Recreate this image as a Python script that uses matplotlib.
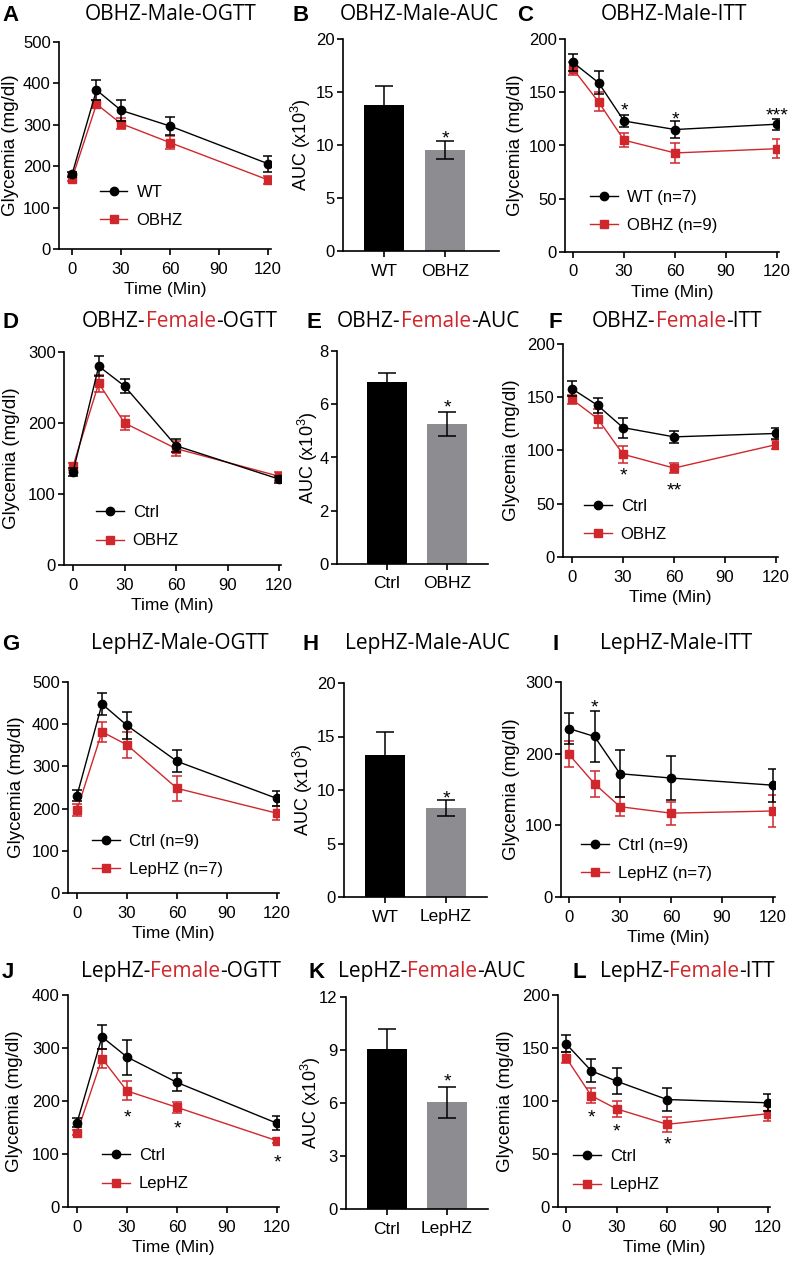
import matplotlib
matplotlib.use("Agg")
import matplotlib.pyplot as plt
from matplotlib.lines import Line2D

W, H, DPI = 791, 1261, 100
RED = "#d0272d"
GRAY = "#8d8d91"

plt.rcParams['font.family'] = ['Liberation Sans', 'DejaVu Sans']
plt.rcParams['mathtext.fontset'] = 'custom'
plt.rcParams['mathtext.rm'] = 'Liberation Sans'
plt.rcParams['mathtext.it'] = 'Liberation Sans:italic'
plt.rcParams['mathtext.bf'] = 'Liberation Sans:bold'

# ---------------- data ----------------
time_min = [0, 15, 30, 60, 120]
time_ticks = [0, 30, 60, 90, 120]

# A  OBHZ-Male-OGTT
A_ctrl = [180, 384, 335, 297, 206]
A_ctrl_sem = [6, 24, 26, 22, 19]
A_trt = [170, 350, 303, 257, 167]
A_trt_sem = [6, 10, 14, 16, 9]
A_labels = ["WT", "OBHZ"]
A_yticks = [0, 100, 200, 300, 400, 500]

# B  OBHZ-Male-AUC
B_cats = ["WT", "OBHZ"]
B_mean = [13.8, 9.55]
B_sem = [1.75, 0.85]
B_yticks = [0, 5, 10, 15, 20]

# C  OBHZ-Male-ITT
C_ctrl = [178, 159, 123, 115, 120]
C_ctrl_sem = [8, 11, 6, 8, 5]
C_trt = [172, 141, 105, 93, 97]
C_trt_sem = [6, 9, 6.5, 9, 9]
C_labels = ["WT (n=7)", "OBHZ (n=9)"]
C_yticks = [0, 50, 100, 150, 200]
C_stars_t = [30, 60, 120]
C_stars_y = [139, 130, 134]
C_stars_s = ["*", "*", "***"]

# D  OBHZ-Female-OGTT
D_ctrl = [131, 280, 252, 168, 121]
D_ctrl_sem = [6, 14, 10, 9, 5]
D_trt = [139, 256, 200, 164, 125]
D_trt_sem = [5, 12, 10, 10, 6]
D_labels = ["Ctrl", "OBHZ"]
D_yticks = [0, 100, 200, 300]

# E  OBHZ-Female-AUC
E_cats = ["Ctrl", "OBHZ"]
E_mean = [6.83, 5.26]
E_sem = [0.35, 0.46]
E_yticks = [0, 2, 4, 6, 8]

# F  OBHZ-Female-ITT
F_ctrl = [158, 142.5, 121.5, 112.8, 116]
F_ctrl_sem = [7, 7, 9.4, 5.3, 5]
F_trt = [148, 130, 96.5, 83.5, 105.5]
F_trt_sem = [4, 9, 8, 5, 4]
F_labels = ["Ctrl", "OBHZ"]
F_yticks = [0, 50, 100, 150, 200]
F_stars_t = [30, 60]
F_stars_y = [82, 68]
F_stars_s = ["*", "**"]

# G  LepHZ-Male-OGTT
G_ctrl = [231, 448, 397, 312, 224]
G_ctrl_sem = [14, 27, 32, 26, 17]
G_trt = [197, 382, 351, 248, 189]
G_trt_sem = [14, 23, 31, 30, 17]
G_labels = ["Ctrl (n=9)", "LepHZ (n=7)"]
G_yticks = [0, 100, 200, 300, 400, 500]

# H  LepHZ-Male-AUC
H_cats = ["WT", "LepHZ"]
H_mean = [13.3, 8.3]
H_sem = [2.15, 0.75]
H_yticks = [0, 5, 10, 15, 20]

# I  LepHZ-Male-ITT
I_ctrl = [235, 224, 172, 166, 156]
I_ctrl_sem = [22, 36, 33, 31, 23]
I_trt = [199, 158, 126, 117, 120]
I_trt_sem = [18, 18, 13, 16, 23]
I_labels = ["Ctrl (n=9)", "LepHZ (n=7)"]
I_yticks = [0, 100, 200, 300]
I_stars_t = [15]
I_stars_y = [273]
I_stars_s = ["*"]

# J  LepHZ-Female-OGTT
J_ctrl = [159, 321, 283, 235, 158]
J_ctrl_sem = [8, 23, 33, 17, 13]
J_trt = [140, 280, 219, 188, 125]
J_trt_sem = [5, 18, 18, 10, 5]
J_labels = ["Ctrl", "LepHZ"]
J_yticks = [0, 100, 200, 300, 400]
J_stars_t = [30, 60, 120]
J_stars_y = [181, 159, 96]
J_stars_s = ["*", "*", "*"]

# K  LepHZ-Female-AUC
K_cats = ["Ctrl", "LepHZ"]
K_mean = [9.03, 6.04]
K_sem = [1.15, 0.87]
K_yticks = [0, 3, 6, 9, 12]

# L  LepHZ-Female-ITT
L_ctrl = [154, 128.5, 118.7, 101.4, 98.3]
L_ctrl_sem = [8, 11, 12, 11, 8]
L_trt = [141, 105, 92.6, 78, 88]
L_trt_sem = [5, 7, 7.5, 7, 7]
L_labels = ["Ctrl", "LepHZ"]
L_yticks = [0, 50, 100, 150, 200]
L_stars_t = [15, 30, 60]
L_stars_y = [90, 77, 64.6]
L_stars_s = ["*", "*", "*"]

# ---------------- figure ----------------
fig = plt.figure(figsize=(W / DPI, H / DPI), dpi=DPI)
renderer = fig.canvas.get_renderer()

TICK_FS = 12
XLAB_FS = 12.5
YLAB_FS = 13.5
LEG_FS = 12
STAR_FS = 14
AX_LW = 1.2


def fy(y_px):
    return 1 - y_px / H


def px_axes(left, top, right, bottom):
    return fig.add_axes([left / W, 1 - bottom / H, (right - left) / W, (bottom - top) / H])


def style(ax):
    for s in ("top", "right"):
        ax.spines[s].set_visible(False)
    for s in ("left", "bottom"):
        ax.spines[s].set_linewidth(AX_LW)
    ax.tick_params(axis="both", width=AX_LW, length=4, labelsize=TICK_FS)
    ax.tick_params(axis="y", pad=2)
    ax.tick_params(axis="x", pad=5)


def set_ylabel(ax, text, x_px, rect, fs=YLAB_FS):
    ax.set_ylabel(text, fontsize=fs)
    ax.yaxis.set_label_coords(x_px / W, fy((rect[1] + rect[3]) / 2), transform=fig.transFigure)
    ax.yaxis.label.set_verticalalignment("center")


def star(ax, x, y, s):
    ax.annotate(s, xy=(x, y), xytext=(0, -0.57 * STAR_FS), textcoords="offset points",
                ha="center", va="baseline", fontsize=STAR_FS, color="black")


def line_panel(rect, x0px, x120px, yticks, ctrl, ctrl_sem, trt, trt_sem, labels,
               leg_px, ylab_x, stars=None):
    ax = px_axes(*rect)
    style(ax)
    scale = (x120px - x0px) / 120.0
    ax.set_xlim((rect[0] - x0px) / scale, (rect[2] - x0px) / scale)
    ax.set_ylim(0, yticks[-1])
    ax.errorbar(time_min, trt, yerr=trt_sem, color=RED, marker="s", ms=6, lw=1.0,
                elinewidth=1.1, capsize=3.5, capthick=1.1, zorder=3)
    ax.errorbar(time_min, ctrl, yerr=ctrl_sem, color="black", marker="o", ms=6, lw=1.0,
                elinewidth=1.1, capsize=3.5, capthick=1.1, zorder=4)
    ax.set_xticks(time_ticks)
    ax.set_yticks(yticks)
    ax.set_xlabel("Time (Min)", fontsize=XLAB_FS, labelpad=4)
    set_ylabel(ax, "Glycemia (mg/dl)", ylab_x, rect)
    handles = [Line2D([], [], color="black", marker="o", ms=6, lw=1.0),
               Line2D([], [], color=RED, marker="s", ms=6, lw=1.0)]
    ax.legend(handles, labels, loc="upper left",
              bbox_to_anchor=(leg_px[0] / W, fy(leg_px[1] - 8)),
              bbox_transform=fig.transFigure, frameon=False, fontsize=LEG_FS,
              handlelength=1.65, handletextpad=0.55, labelspacing=0.8,
              borderpad=0, borderaxespad=0, numpoints=1)
    if stars:
        for t, y, s in zip(*stars):
            star(ax, t, y, s)
    return ax


def bar_panel(rect, c0, c1, yticks, cats, means, sems, star_y, ylab_x):
    ax = px_axes(*rect)
    style(ax)
    sp = c1 - c0
    ax.set_xlim((rect[0] - c0) / sp, (rect[2] - c0) / sp)
    ax.set_ylim(0, yticks[-1])
    pos = [0, 1]
    ax.bar(pos, means, width=40 / sp, color=["black", GRAY], zorder=2)
    ax.errorbar(pos, means, yerr=sems, fmt="none", ecolor="black", elinewidth=1.1,
                capsize=6.5, capthick=1.1, zorder=3)
    ax.set_xticks(pos)
    ax.set_xticklabels(cats, fontsize=12.5)
    ax.set_yticks(yticks)
    set_ylabel(ax, r"AUC (x10$^{3}$)", ylab_x, rect, fs=13)
    star(ax, 1, star_y, "*")
    return ax


def title(x_px, ycap_px, pieces, letter, letter_x):
    fs = 15
    cap = fs * DPI / 72 * 0.714
    base = ycap_px + cap / 2
    x = x_px
    for txt, col in pieces:
        t = fig.text(x / W, fy(base), txt, color=col, fontsize=fs, family="Open Sans",
                     ha="left", va="baseline")
        bb = t.get_window_extent(renderer)
        x += bb.width
    lfs = 16
    lcap = lfs * DPI / 72 * 0.716
    fig.text(letter_x / W, fy(ycap_px + lcap / 2), letter, fontsize=lfs, fontweight="bold",
             ha="left", va="baseline")


K_ = "black"
# Row 1
line_panel((59, 42, 271, 249), 72, 268, A_yticks, A_ctrl, A_ctrl_sem, A_trt, A_trt_sem,
           A_labels, (100, 193), 11)
bar_panel((343, 39, 499, 251), 384, 445, B_yticks, B_cats, B_mean, B_sem, 11.2, 301)
line_panel((565, 39, 779, 252), 573, 777, C_yticks, C_ctrl, C_ctrl_sem, C_trt, C_trt_sem,
           C_labels, (590, 198), 516, (C_stars_t, C_stars_y, C_stars_s))
# Row 2
line_panel((64, 352, 281, 565), 73, 279, D_yticks, D_ctrl, D_ctrl_sem, D_trt, D_trt_sem,
           D_labels, (96, 513), 12)
bar_panel((337, 351, 488, 564), 386.5, 447, E_yticks, E_cats, E_mean, E_sem, 6.1, 308)
line_panel((563, 344, 778, 557), 572, 776, F_yticks, F_ctrl, F_ctrl_sem, F_trt, F_trt_sem,
           F_labels, (584, 507), 511, (F_stars_t, F_stars_y, F_stars_s))
# Row 3
line_panel((68, 682, 279, 893), 77, 277, G_yticks, G_ctrl, G_ctrl_sem, G_trt, G_trt_sem,
           G_labels, (92, 842), 17)
bar_panel((344, 683, 487, 897), 385, 446, H_yticks, H_cats, H_mean, H_sem, 9.8, 303)
line_panel((561, 682, 775, 897), 569, 773, I_yticks, I_ctrl, I_ctrl_sem, I_trt, I_trt_sem,
           I_labels, (581, 846), 511, (I_stars_t, I_stars_y, I_stars_s))
# Row 4
line_panel((68, 995, 279, 1207), 77, 277, J_yticks, J_ctrl, J_ctrl_sem, J_trt, J_trt_sem,
           J_labels, (102, 1156), 15, (J_stars_t, J_stars_y, J_stars_s))
bar_panel((346, 997, 488, 1209), 387, 447, K_yticks, K_cats, K_mean, K_sem, 7.54, 311)
line_panel((558, 995, 770, 1207), 566, 768, L_yticks, L_ctrl, L_ctrl_sem, L_trt, L_trt_sem,
           L_labels, (573, 1157), 506, (L_stars_t, L_stars_y, L_stars_s))

# Titles
title(85, 13, [("OBHZ-Male-OGTT", K_)], "A", 2)
title(340, 13, [("OBHZ-Male-AUC", K_)], "B", 292)
title(601, 13, [("OBHZ-Male-ITT", K_)], "C", 517)
title(82, 320, [("OBHZ-", K_), ("Female", RED), ("-OGTT", K_)], "D", 2)
title(337, 320, [("OBHZ-", K_), ("Female", RED), ("-AUC", K_)], "E", 307)
title(592, 320, [("OBHZ-", K_), ("Female", RED), ("-ITT", K_)], "F", 548)
title(91, 642, [("LepHZ-Male-OGTT", K_)], "G", 2)
title(345, 642, [("LepHZ-Male-AUC", K_)], "H", 303)
title(600, 642, [("LepHZ-Male-ITT", K_)], "I", 552)
title(81, 970, [("LepHZ-", K_), ("Female", RED), ("-OGTT", K_)], "J", 2)
title(338, 970, [("LepHZ-", K_), ("Female", RED), ("-AUC", K_)], "K", 308)
title(600, 970, [("LepHZ-", K_), ("Female", RED), ("-ITT", K_)], "L", 572)

fig.savefig("out.png", dpi=DPI)
